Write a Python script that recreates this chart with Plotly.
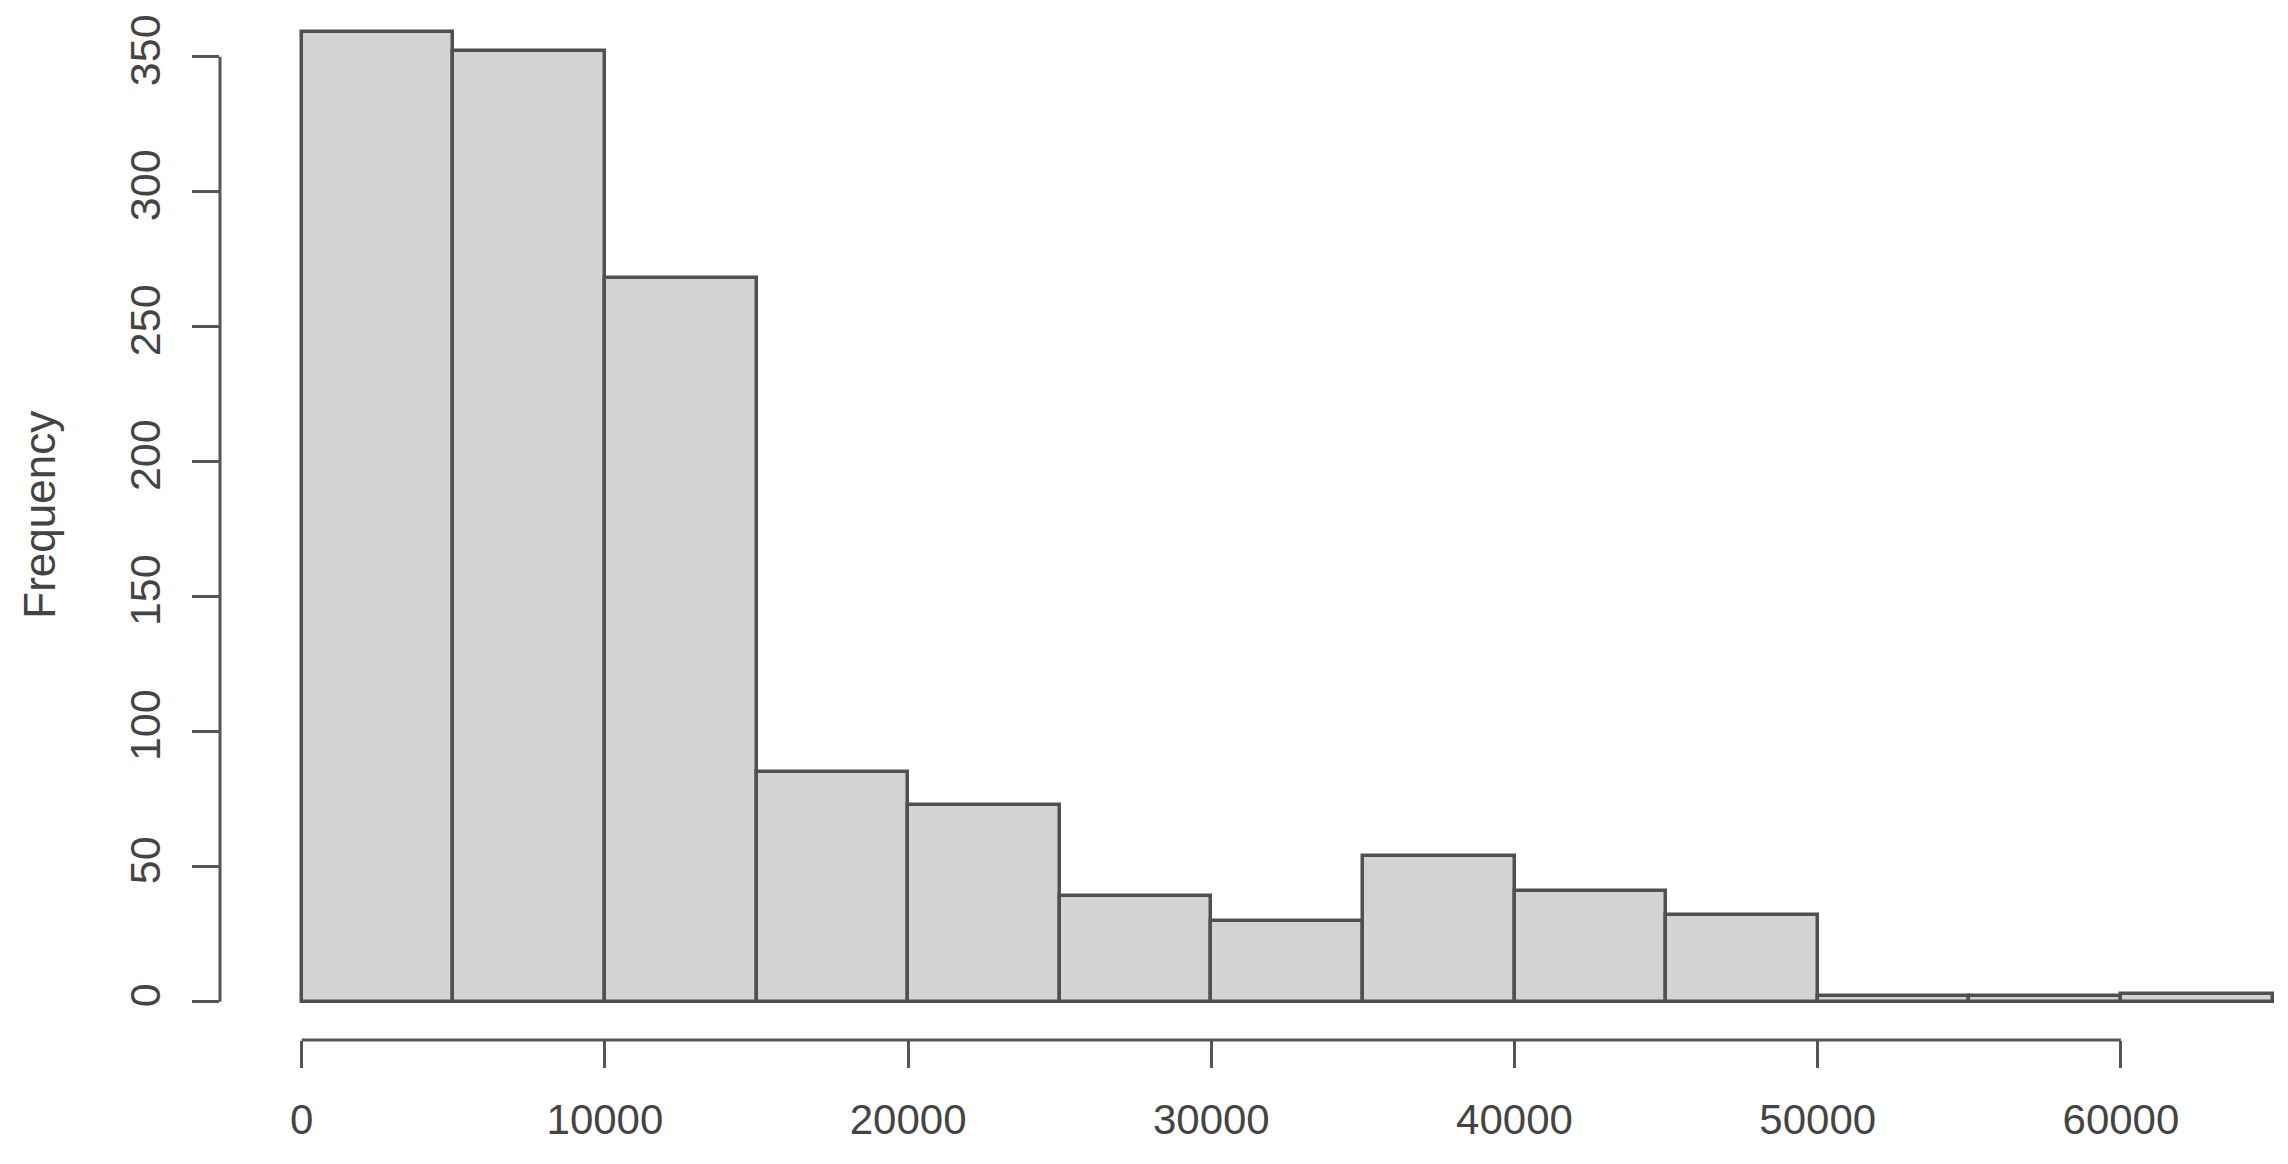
import plotly.graph_objects as go

# Histogram data
bin_starts = [0, 5000, 10000, 15000, 20000, 25000, 30000, 35000, 40000, 45000, 50000, 55000, 60000]
bin_width = 5000
counts = [359, 352, 268, 85, 73, 39, 30, 54, 41, 32, 2, 2, 3]
x_ticks = [0, 10000, 20000, 30000, 40000, 50000, 60000]
y_ticks = [0, 50, 100, 150, 200, 250, 300, 350]
y_title = "Frequency"

axis_col = "#555555"
text_col = "#444444"
font_fam = "Liberation Sans, Arial, sans-serif"

fig = go.Figure()
fig.add_trace(go.Bar(
    x=bin_starts, y=counts, width=[bin_width] * len(bin_starts), offset=0,
    marker=dict(color="#D3D3D3", line=dict(color="#505050", width=3.5)),
    showlegend=False, hoverinfo="x+y",
))

# page body has an 8px margin in the browser
W, H = 2272, 1148
ml, mr, mt, mb = 212, 0, 12, 116
fig.update_layout(
    width=W, height=H,
    margin=dict(l=ml, r=mr, t=mt, b=mb, pad=0),
    paper_bgcolor="white", plot_bgcolor="white",
    bargap=0,
    font=dict(family=font_fam, size=43, color=text_col),
)
fig.update_xaxes(
    range=[-2695, 65247], showgrid=False, zeroline=False, showline=False,
    tickmode="array", tickvals=x_ticks, ticktext=[str(v) for v in x_ticks],
    ticks="outside", ticklen=27, tickwidth=3, tickcolor=axis_col,
    ticklabelstandoff=16,
    tickfont=dict(size=42, color=text_col, family=font_fam),
)
fig.update_yaxes(
    range=[-14.2, 363.6], showgrid=False, zeroline=False, showline=False,
    tickmode="array", tickvals=y_ticks, ticktext=[str(v) for v in y_ticks],
    ticks="outside", ticklen=27, tickwidth=3, tickcolor=axis_col,
    tickangle=-90, ticklabelstandoff=15,
    tickfont=dict(size=43, color=text_col, family=font_fam),
)
# detached R-style axis lines spanning the tick range
fig.add_shape(type="line", xref="x", yref="paper",
              x0=x_ticks[0], x1=x_ticks[-1], y0=0, y1=0,
              line=dict(color=axis_col, width=3))
fig.add_shape(type="line", xref="paper", yref="y",
              x0=0, x1=0, y0=y_ticks[0], y1=y_ticks[-1],
              line=dict(color=axis_col, width=3))
fig.add_annotation(
    text=y_title, textangle=-90, xref="paper", yref="paper",
    x=0, y=0.515, xanchor="center", yanchor="middle", xshift=-180,
    showarrow=False, font=dict(size=44, color=text_col, family=font_fam),
)

fig.write_html("out.html")
